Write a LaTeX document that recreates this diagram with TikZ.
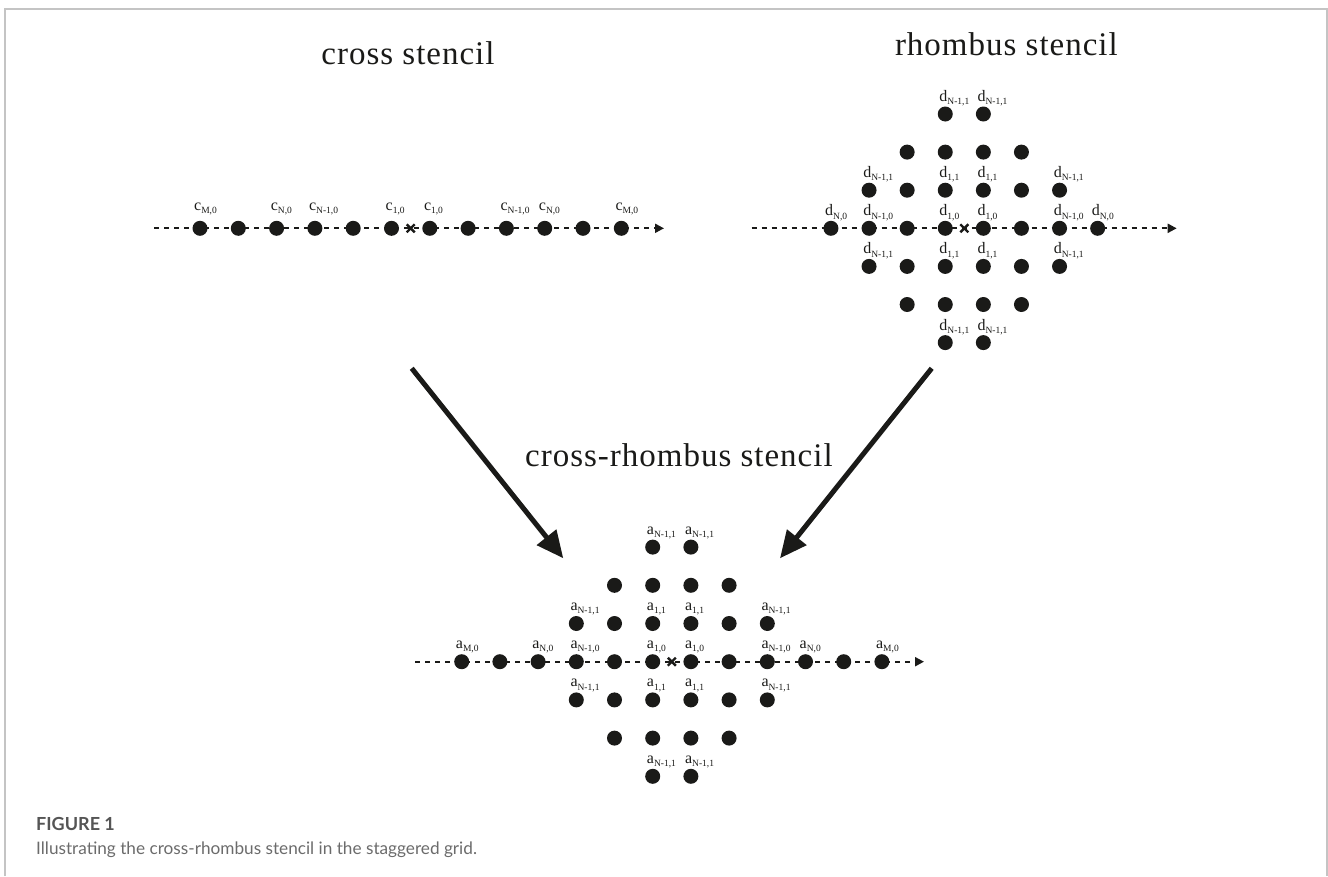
\documentclass[tikz,border=0pt]{standalone}
\usepackage{fontspec}
\setmainfont{Liberation Serif}
\newfontfamily\titlefont[LetterSpace=3]{Liberation Serif}
\newfontfamily\capfont{Lato}
\usetikzlibrary{arrows.meta}
\definecolor{ink}{HTML}{1A1A18}
\definecolor{framegray}{HTML}{C4C4C4}
\definecolor{capgray}{HTML}{6B6B6B}
\definecolor{figgray}{HTML}{555555}
\newcommand\lbl[2]{#1\raisebox{-3.2pt}{\fontsize{9.5}{10}\selectfont#2}}
\begin{document}
\begin{tikzpicture}[x=1pt,y=-1pt,
  dot/.style={circle,fill=ink,minimum size=15pt,inner sep=0pt},
  lab/.style={anchor=base west,inner sep=0pt,font=\fontsize{16}{16}\selectfont,text=ink},
  axisline/.style={draw=ink,line width=2pt,dash pattern=on 5pt off 5pt,-{Triangle[length=9pt,width=9pt]}},
  bigarrow/.style={draw=ink,line width=5pt,-{Triangle[length=27pt,width=24pt]}},
  titletext/.style={font=\titlefont\fontsize{33}{33}\selectfont,text=ink,inner sep=0pt},
  crossmark/.style={draw=ink,line width=2.4pt}]
\useasboundingbox (0,0) rectangle (1328,876);
\draw[framegray,line width=2pt] (4.5,876) -- (4.5,8.5) -- (1326.5,8.5) -- (1326.5,876);

% ---------- titles ----------
\node[titletext,anchor=base] (t1) at (408,64) {cross stencil};
\node[titletext,anchor=base east] (t2) at (1118,55) {rhombus stencil};
\node[titletext,anchor=base west] (t3) at (525,466.7) {cross-rhombus stencil};

% ---------- cross stencil ----------
\coordinate (cs) at (154,228.3);
\coordinate (ce) at (664,228.3);
\draw[axisline] (cs) -- (ce);
\foreach \i in {0,...,11} \node[dot] (c\i) at ({200+38.3*\i},228.3) {};
\coordinate (cx) at (410.7,228.3);
\draw[crossmark] ([shift={(-4,-4)}]cx) -- ([shift={(4,4)}]cx);
\draw[crossmark] ([shift={(-4,4)}]cx) -- ([shift={(4,-4)}]cx);
\foreach \i/\t in {0/{M,0},2/{N,0},3/{N-1,0},5/{1,0},6/{1,0},8/{N-1,0},9/{N,0},11/{M,0}}
  \node[lab] (cl\i) at ({194+38.3*\i},210.5) {\lbl{c}{\t}};

% ---------- rhombus stencil ----------
\coordinate (rs) at (751.7,228.3);
\coordinate (re) at (1176.7,228.3);
\draw[axisline] (rs) -- (re);
\foreach \r/\a/\b in {0/4/5,1/3/6,2/2/7,3/1/8,4/2/7,5/3/6,6/4/5}
  \foreach \k in {\a,...,\b}
    \node[dot] (d\r k\k) at ({964.3+38.1*(\k-4.5)},{228.3+38.1*(\r-3)}) {};
\coordinate (rx) at (964.3,228.3);
\draw[crossmark] ([shift={(-4,-4)}]rx) -- ([shift={(4,4)}]rx);
\draw[crossmark] ([shift={(-4,4)}]rx) -- ([shift={(4,-4)}]rx);
\foreach \r/\k/\t in {0/4/{N-1,1},0/5/{N-1,1},
    2/2/{N-1,1},2/4/{1,1},2/5/{1,1},2/7/{N-1,1},
    3/1/{N,0},3/2/{N-1,0},3/4/{1,0},3/5/{1,0},3/7/{N-1,0},3/8/{N,0},
    4/2/{N-1,1},4/4/{1,1},4/5/{1,1},4/7/{N-1,1},
    6/4/{N-1,1},6/5/{N-1,1}}
  \node[lab] (dl\r k\k) at ({964.3+38.1*(\k-4.5)-6},{228.3+38.1*(\r-3)-12.5}) {\lbl{d}{\t}};

% ---------- cross-rhombus stencil ----------
\coordinate (bs) at (415,661.7);
\coordinate (be) at (924,661.7);
\draw[axisline] (bs) -- (be);
\foreach \r/\a/\b in {0/6/7,1/5/8,2/4/9,3/1/12,4/4/9,5/5/8,6/6/7}
  \foreach \k in {\a,...,\b}
    \node[dot] (a\r k\k) at ({671.8+38.2*(\k-6.5)},{661.7+38.2*(\r-3)}) {};
\coordinate (bx) at (671.8,661.7);
\draw[crossmark] ([shift={(-4,-4)}]bx) -- ([shift={(4,4)}]bx);
\draw[crossmark] ([shift={(-4,4)}]bx) -- ([shift={(4,-4)}]bx);
\foreach \r/\k/\t in {0/6/{N-1,1},0/7/{N-1,1},
    2/4/{N-1,1},2/6/{1,1},2/7/{1,1},2/9/{N-1,1},
    3/1/{M,0},3/3/{N,0},3/4/{N-1,0},3/6/{1,0},3/7/{1,0},3/9/{N-1,0},3/10/{N,0},3/12/{M,0},
    4/4/{N-1,1},4/6/{1,1},4/7/{1,1},4/9/{N-1,1},
    6/6/{N-1,1},6/7/{N-1,1}}
  \node[lab] (al\r k\k) at ({671.8+38.2*(\k-6.5)-6},{661.7+38.2*(\r-3)-13}) {\lbl{a}{\t}};

% ---------- big arrows ----------
\coordinate (A1s) at (411.7,368.3);
\coordinate (A1e) at (563.3,558.3);
\coordinate (A2s) at (931.7,368.3);
\coordinate (A2e) at (780,558.3);
\draw[bigarrow] (A1s) -- (A1e);
\draw[bigarrow] (A2s) -- (A2e);

% ---------- caption ----------
\node[anchor=base west,inner sep=0pt,text=figgray,font=\capfont\bfseries\fontsize{18}{18}\selectfont] (fig) at (36,830) {FIGURE 1};
\node[anchor=base west,inner sep=0pt,text=capgray,font=\capfont\fontsize{17.2}{17.2}\selectfont] (cap) at (36,854) {Illustrating the cross-rhombus stencil in the staggered grid.};
\end{tikzpicture}
\end{document}
